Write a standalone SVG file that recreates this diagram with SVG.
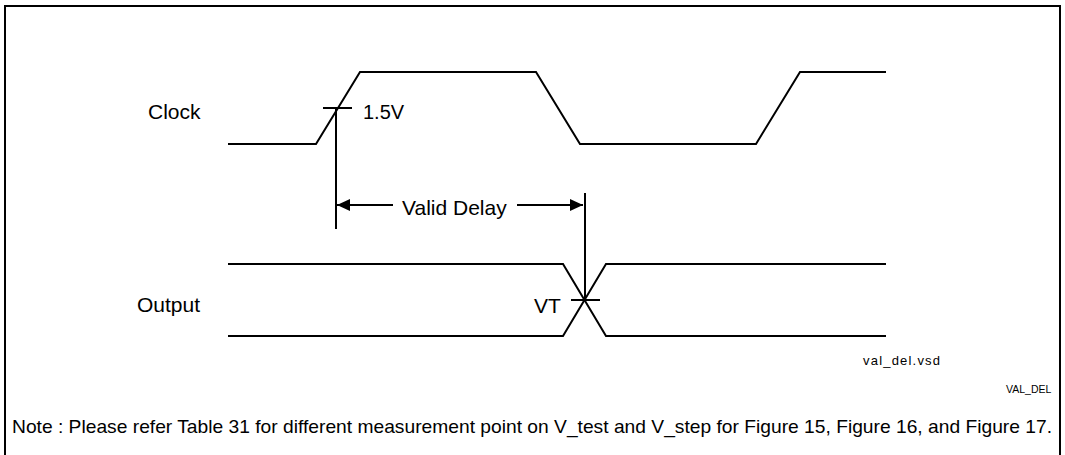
<svg xmlns="http://www.w3.org/2000/svg" width="1065" height="455" viewBox="0 0 1065 455">
<style>
.w{fill:none;stroke:#000;stroke-width:2;stroke-linejoin:miter}
.t{font-family:"Liberation Sans",Arial,sans-serif;fill:#000}
.lb{font-size:21px}
</style>
<defs>
<marker id="ah" viewBox="0 0 13 12" refX="13" refY="6" markerWidth="13" markerHeight="12" markerUnits="userSpaceOnUse" orient="auto-start-reverse">
<path d="M0,0 L13,6 L0,12 z" fill="#000"/>
</marker>
</defs>
<rect width="1065" height="455" fill="#fff"/>
<path d="M5,455 V6 H1060 V455" fill="none" stroke="#000" stroke-width="2"/>
<g id="clock">
<text class="t lb" x="148" y="119">Clock</text>
<path class="w" d="M228,144 H316 L360,72 H536 L580,144 H756 L800,72 H886"/>
</g>
<g id="output">
<text class="t lb" x="137" y="312">Output</text>
<path class="w" d="M228,264 H563 L606,336 H886"/>
<path class="w" d="M228,336 H563 L606,264 H886"/>
</g>
<g id="connectors">
<line class="w" x1="323" y1="108" x2="352" y2="108"/>
<line class="w" x1="336" y1="108" x2="336" y2="229"/>
<line class="w" x1="571" y1="300" x2="600" y2="300"/>
<line class="w" x1="585" y1="193" x2="585" y2="300"/>
<line class="w" x1="393" y1="205" x2="337" y2="205" marker-end="url(#ah)"/>
<line class="w" x1="517" y1="205" x2="583" y2="205" marker-end="url(#ah)"/>
</g>
<g id="labels">
<text class="t" x="363" y="119" font-size="20">1.5V</text>
<text class="t lb" x="402" y="215">Valid Delay</text>
<text class="t lb" x="534" y="313">VT</text>
<text class="t" x="863" y="365" font-size="13" letter-spacing="1.2">val_del.vsd</text>
<text class="t" x="1006" y="393" font-size="10.5">VAL_DEL</text>
<text class="t" x="12" y="433" font-size="19" textLength="1040" lengthAdjust="spacingAndGlyphs">Note : Please refer Table 31 for different measurement point on V_test and V_step for Figure 15, Figure 16, and Figure 17.</text>
</g>
</svg>
